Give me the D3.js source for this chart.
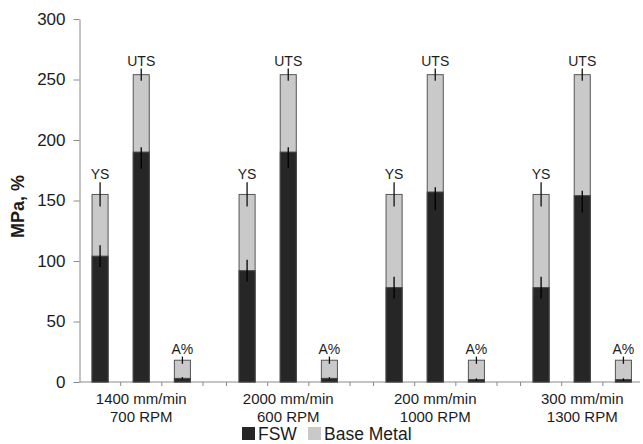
<!DOCTYPE html>
<html>
<head>
<meta charset="utf-8">
<script src="https://cdn.jsdelivr.net/npm/d3@7"></script>
<style>
  html, body { margin: 0; padding: 0; background: #fff; }
  svg { display: block; font-family: "Liberation Sans", Arial, sans-serif; }
</style>
</head>
<body>
<svg id="chart" width="643" height="444"></svg>
<script>
// ---- data ----
const speedLabels = ["1400 mm/min", "2000 mm/min", "200 mm/min", "300 mm/min"];
const rpmLabels = ["700 RPM", "600 RPM", "1000 RPM", "1300 RPM"];
const properties = ["YS", "UTS", "A%"];
const seriesNames = ["FSW", "Base Metal"];
const yTicks = [0, 50, 100, 150, 200, 250, 300];

// Base metal (same reference for every condition): YS, UTS, A%
const baseMetal = [155, 254, 18];
const baseMetalErr = [10, 5, 3];

// FSW values per condition
const fswYS = [104, 92, 78, 78];
const fswUTS = [190, 190, 157, 154];
const fswA = [3, 3, 2, 2];
const fswYSErrUp = [9, 9, 9, 9];
const fswYSErrDown = [9, 9, 9, 9];
const fswUTSErrUp = [4, 4, 4, 4];
const fswUTSErrDown = [14, 13, 15, 14];
const fswAErr = [1, 1, 1, 1];

// ---- build rows ----
const rows = [];
speedLabels.forEach((g, gi) => {
  const fswVals = [fswYS[gi], fswUTS[gi], fswA[gi]];
  const fswUp = [fswYSErrUp[gi], fswUTSErrUp[gi], fswAErr[gi]];
  const fswDown = [fswYSErrDown[gi], fswUTSErrDown[gi], fswAErr[gi]];
  properties.forEach((p, pi) => {
    rows.push({
      group: g, prop: p,
      base: baseMetal[pi], baseErr: baseMetalErr[pi],
      fsw: fswVals[pi], fswUp: fswUp[pi], fswDown: fswDown[pi]
    });
  });
});

// ---- layout ----
const svg = d3.select("#chart");
const plotLeft = 79.5, plotRight = 644, plotTop = 19, plotBottom = 382;
const axisColor = "#8a8a8a";
const fswColor = "#262626";
const baseColor = "#c9c9c9";
const barStroke = "#555";
const textColor = "#1c1c1c";

const y = d3.scaleLinear().domain([0, 300]).range([plotBottom, plotTop]);
const xGroup = d3.scaleBand().domain(speedLabels).range([plotLeft, plotRight])
  .paddingInner(0.16).paddingOuter(0);
const xProp = d3.scaleBand().domain(properties).range([0, xGroup.bandwidth()])
  .paddingInner(0.61).paddingOuter(0.305);
const slotStep = xGroup.bandwidth() / properties.length;
const barX = d => xGroup(d.group) + xProp(d.prop);
const barW = xProp.bandwidth();
const barCx = d => barX(d) + barW / 2;

// ---- y axis ----
const yAxis = svg.append("g")
  .attr("transform", `translate(${plotLeft},0)`)
  .call(d3.axisLeft(y).tickValues(yTicks).tickSize(6).tickPadding(8).tickSizeOuter(0));
yAxis.select(".domain").attr("stroke", axisColor);
yAxis.selectAll(".tick line").attr("stroke", axisColor);
yAxis.selectAll(".tick text").attr("font-size", 17).attr("fill", textColor)
  .attr("font-family", "Liberation Sans, Arial, sans-serif");

svg.append("text")
  .attr("transform", `translate(24,${(plotTop + plotBottom) / 2 + 6}) rotate(-90)`)
  .attr("text-anchor", "middle")
  .attr("font-size", 18).attr("font-weight", "bold").attr("fill", textColor)
  .text("MPa, %");

// ---- x axis ----
svg.append("line")
  .attr("x1", plotLeft).attr("x2", 640)
  .attr("y1", y(0)).attr("y2", y(0))
  .attr("stroke", axisColor);
const tickPos = [];
speedLabels.forEach(g => {
  for (let k = 0; k <= properties.length; k++) tickPos.push(xGroup(g) + k * slotStep);
});
svg.append("g").selectAll("line").data(tickPos.filter(t => t > plotLeft + 1 && t < 640))
  .join("line")
  .attr("x1", d => d).attr("x2", d => d)
  .attr("y1", y(0)).attr("y2", y(0) + 4)
  .attr("stroke", axisColor);

const catLabels = svg.append("g").selectAll("text").data(speedLabels).join("text")
  .attr("text-anchor", "middle")
  .attr("font-size", 15).attr("fill", textColor)
  .attr("x", d => xGroup(d) + xGroup.bandwidth() / 2)
  .attr("y", 404);
catLabels.append("tspan").text(d => d);
catLabels.append("tspan")
  .attr("x", d => xGroup(d) + xGroup.bandwidth() / 2)
  .attr("dy", 18)
  .text((d, i) => rpmLabels[i]);

// ---- bars ----
const bars = svg.append("g");
// base metal (behind)
bars.selectAll("rect.base").data(rows).join("rect").attr("class", "base")
  .attr("x", barX).attr("width", barW)
  .attr("y", d => y(d.base)).attr("height", d => y(0) - y(d.base))
  .attr("fill", baseColor).attr("stroke", barStroke).attr("stroke-width", 1);
// base metal error bars
bars.selectAll("line.baseErr").data(rows).join("line").attr("class", "baseErr")
  .attr("x1", barCx).attr("x2", barCx)
  .attr("y1", d => y(d.base + d.baseErr)).attr("y2", d => y(d.base - d.baseErr))
  .attr("stroke", "#111").attr("stroke-width", 1.3);
// FSW (front)
bars.selectAll("rect.fsw").data(rows).join("rect").attr("class", "fsw")
  .attr("x", barX).attr("width", barW)
  .attr("y", d => y(d.fsw)).attr("height", d => y(0) - y(d.fsw))
  .attr("fill", fswColor).attr("stroke", "#444").attr("stroke-width", 1);
bars.selectAll("line.fswErr").data(rows).join("line").attr("class", "fswErr")
  .attr("x1", barCx).attr("x2", barCx)
  .attr("y1", d => y(d.fsw + d.fswUp)).attr("y2", d => y(Math.max(0, d.fsw - d.fswDown)))
  .attr("stroke", "#000").attr("stroke-width", 1.3);

// property labels
svg.append("g").selectAll("text").data(rows).join("text")
  .attr("text-anchor", "middle")
  .attr("font-size", 14).attr("fill", textColor)
  .attr("x", barCx)
  .attr("y", d => y(d.base + d.baseErr) - 3)
  .text(d => d.prop);

// ---- legend ----
const legend = svg.append("g");
const legendItems = [
  { name: seriesNames[0], color: fswColor, x: 242 },
  { name: seriesNames[1], color: baseColor, x: 308 }
];
legend.selectAll("rect").data(legendItems).join("rect")
  .attr("x", d => d.x).attr("y", 427).attr("width", 13).attr("height", 13)
  .attr("fill", d => d.color);
legend.selectAll("text").data(legendItems).join("text")
  .attr("x", d => d.x + 16).attr("y", 440)
  .attr("font-size", 17.5).attr("fill", textColor)
  .text(d => d.name);
</script>
</body>
</html>
